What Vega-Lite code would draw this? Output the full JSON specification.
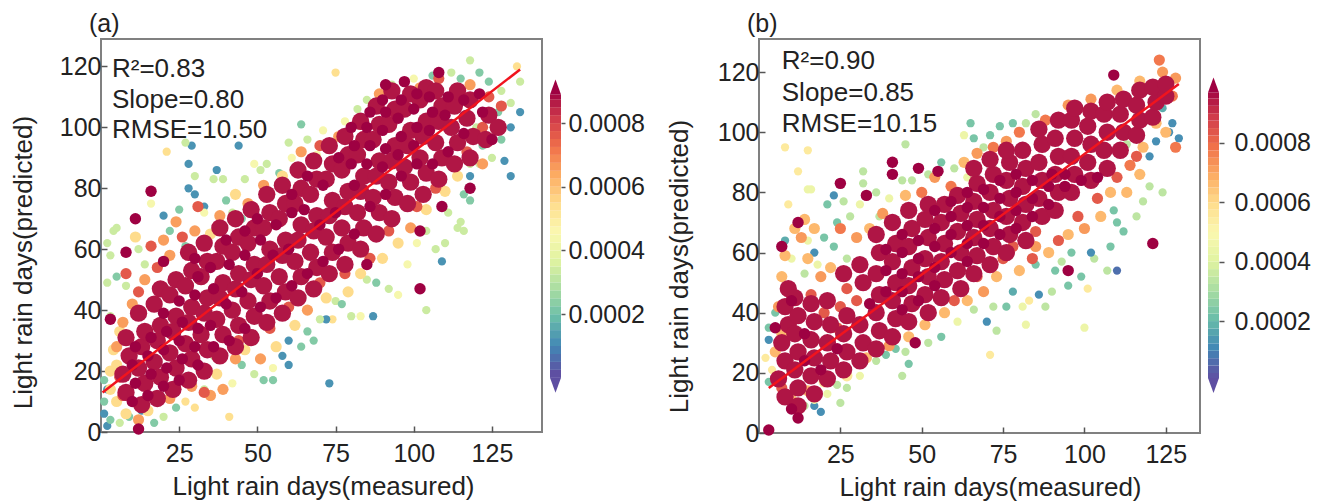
{"$schema":"https://vega.github.io/schema/vega-lite/v6.json","padding":{"left":9,"top":11,"right":0,"bottom":0},"background":"white",
"config":{"font":"Liberation Sans","view":{"stroke":"#808080","strokeWidth":2},"axis":{"grid":false,"domain":false,"labelFontSize":25,"titleFontSize":26,"titleFontWeight":"normal","labelColor":"#222","titleColor":"#222","tickColor":"#555","tickWidth":1.5,"tickSize":-6,"labelPadding":6},"title":{"fontSize":25,"fontWeight":"normal","anchor":"start","color":"#222"}},
"resolve":{"scale":{"color":"independent"}},
"datasets":{
"a":[{"x":2,"y":2,"d":1},{"x":1,"y":6,"d":1},{"x":1,"y":10,"d":2},{"x":2,"y":14,"d":1},{"x":1,"y":17,"d":2},{"x":3,"y":4,"d":2},{"x":6,"y":3,"d":3},{"x":9,"y":5,"d":2},{"x":4,"y":27,"d":5},{"x":3,"y":38,"d":3},{"x":2,"y":49,"d":3},{"x":3,"y":58,"d":3},{"x":4,"y":66,"d":3},{"x":5,"y":67,"d":3},{"x":2,"y":62,"d":3},{"x":5,"y":51,"d":2},{"x":8,"y":48,"d":3},{"x":75,"y":118,"d":4.9},{"x":73,"y":16,"d":1},{"x":29,"y":94,"d":1},{"x":44,"y":94,"d":1},{"x":21,"y":92,"d":4.9},{"x":28,"y":88,"d":1},{"x":37,"y":86,"d":1},{"x":28,"y":80,"d":1},{"x":30,"y":78,"d":1},{"x":33,"y":74,"d":1},{"x":27,"y":95,"d":3},{"x":12,"y":60,"d":3},{"x":16,"y":75,"d":4},{"x":20,"y":71,"d":1},{"x":22,"y":66,"d":2},{"x":25,"y":73,"d":2},{"x":27,"y":61,"d":2},{"x":30,"y":84,"d":3},{"x":33,"y":72,"d":4},{"x":36,"y":83,"d":3},{"x":39,"y":83,"d":3},{"x":40,"y":76,"d":2},{"x":42,"y":72,"d":3},{"x":45,"y":70,"d":2},{"x":46,"y":83,"d":3},{"x":49,"y":88,"d":4},{"x":51,"y":86,"d":3},{"x":53,"y":88,"d":3},{"x":57,"y":85,"d":2},{"x":60,"y":95,"d":3},{"x":61,"y":90,"d":4},{"x":64,"y":101,"d":2},{"x":66,"y":96,"d":3},{"x":71,"y":99,"d":4},{"x":69,"y":91,"d":4},{"x":78,"y":102,"d":4},{"x":82,"y":106,"d":3},{"x":85,"y":109,"d":3},{"x":93,"y":114,"d":3},{"x":100,"y":116,"d":4},{"x":106,"y":117,"d":2},{"x":112,"y":118,"d":3},{"x":115,"y":116,"d":2},{"x":118,"y":122,"d":3},{"x":121,"y":118,"d":2},{"x":124,"y":115,"d":2},{"x":128,"y":112,"d":3},{"x":131,"y":108,"d":3},{"x":134,"y":115,"d":3},{"x":133,"y":120,"d":4.9},{"x":134,"y":105,"d":1},{"x":131,"y":100,"d":1},{"x":128,"y":96,"d":2},{"x":129,"y":89,"d":1},{"x":131,"y":84,"d":1},{"x":125,"y":90,"d":3},{"x":121,"y":88,"d":3},{"x":122,"y":94,"d":2},{"x":118,"y":88,"d":3},{"x":118,"y":84,"d":1},{"x":116,"y":78,"d":2},{"x":118,"y":76,"d":2},{"x":115,"y":69,"d":3},{"x":114,"y":67,"d":3},{"x":116,"y":66,"d":3},{"x":110,"y":62,"d":3},{"x":107,"y":60,"d":3},{"x":109,"y":56,"d":1},{"x":104,"y":40,"d":3},{"x":95,"y":45,"d":4},{"x":92,"y":47,"d":3},{"x":88,"y":49,"d":2},{"x":85,"y":50,"d":3},{"x":87,"y":38,"d":1},{"x":83,"y":38,"d":4},{"x":80,"y":38,"d":3},{"x":75,"y":43,"d":3},{"x":74,"y":37,"d":4.9},{"x":72,"y":37,"d":1},{"x":77,"y":42,"d":2},{"x":68,"y":30,"d":2},{"x":66,"y":33,"d":2},{"x":64,"y":28,"d":2},{"x":60,"y":30,"d":1},{"x":58,"y":25,"d":1},{"x":60,"y":22,"d":1},{"x":55,"y":21,"d":4},{"x":55,"y":17,"d":2},{"x":52,"y":17,"d":2},{"x":49,"y":19,"d":3},{"x":45,"y":22,"d":2},{"x":41,"y":5,"d":4.9},{"x":30,"y":8,"d":4.9},{"x":27,"y":10,"d":4.9},{"x":24,"y":8,"d":2},{"x":20,"y":5,"d":3},{"x":17,"y":3,"d":2},{"x":13,"y":7,"d":1},{"x":98,"y":55,"d":4},{"x":101,"y":62,"d":4},{"x":104,"y":66,"d":3},{"x":111,"y":72,"d":3},{"x":120,"y":100,"d":3},{"x":127,"y":105,"d":2},{"x":36,"y":25,"d":3},{"x":70,"y":37,"d":3},{"x":42,"y":16,"d":4},{"x":33,"y":14,"d":3},{"x":14,"y":55,"d":3},
{"x":3,"y":20,"d":5},{"x":5,"y":10,"d":5},{"x":3,"y":14,"d":5},{"x":5,"y":22,"d":5},{"x":6,"y":33,"d":5},{"x":8,"y":6,"d":5},{"x":12,"y":4,"d":6},{"x":15,"y":7,"d":5},{"x":22,"y":11,"d":6},{"x":29,"y":15,"d":6},{"x":35,"y":12,"d":6},{"x":39,"y":14,"d":6},{"x":37,"y":19,"d":5},{"x":43,"y":24,"d":6},{"x":46,"y":27,"d":5},{"x":51,"y":24,"d":6},{"x":56,"y":28,"d":5},{"x":62,"y":35,"d":5},{"x":66,"y":40,"d":6},{"x":72,"y":44,"d":5},{"x":79,"y":46,"d":5},{"x":83,"y":52,"d":5},{"x":90,"y":57,"d":5},{"x":95,"y":62,"d":5},{"x":99,"y":67,"d":6},{"x":104,"y":73,"d":5},{"x":110,"y":79,"d":5},{"x":114,"y":84,"d":5},{"x":122,"y":88,"d":6},{"x":126,"y":100,"d":5},{"x":128,"y":107,"d":7},{"x":124,"y":110,"d":7},{"x":118,"y":114,"d":6},{"x":108,"y":116,"d":7},{"x":102,"y":113,"d":6},{"x":89,"y":111,"d":6},{"x":83,"y":101,"d":6},{"x":76,"y":97,"d":6},{"x":70,"y":94,"d":7},{"x":64,"y":92,"d":6},{"x":58,"y":84,"d":5},{"x":52,"y":81,"d":6},{"x":47,"y":75,"d":6},{"x":43,"y":78,"d":5},{"x":38,"y":71,"d":6},{"x":35,"y":65,"d":5},{"x":30,"y":66,"d":6},{"x":26,"y":64,"d":7},{"x":22,"y":58,"d":6},{"x":18,"y":54,"d":7},{"x":14,"y":50,"d":6},{"x":10,"y":42,"d":6},{"x":7,"y":36,"d":6},{"x":5,"y":28,"d":6},{"x":11,"y":64,"d":5},{"x":16,"y":61,"d":7},{"x":20,"y":63,"d":6},{"x":24,"y":69,"d":6},{"x":31,"y":74,"d":7},{"x":8,"y":52,"d":7},{"x":6,"y":18,"d":7},{"x":7,"y":12,"d":7},{"x":12,"y":46,"d":7},{"x":33,"y":13,"d":7},{"x":44,"y":30,"d":7},{"x":54,"y":34,"d":7},{"x":60,"y":41,"d":7},{"x":70,"y":49,"d":7},{"x":78,"y":52,"d":7},{"x":86,"y":57,"d":7},{"x":92,"y":66,"d":7},{"x":101,"y":74,"d":7},{"x":107,"y":80,"d":7},{"x":117,"y":92,"d":7},{"x":122,"y":100,"d":7},
{"x":8,"y":13,"d":8},{"x":7,"y":19,"d":8},{"x":9,"y":25,"d":8},{"x":8,"y":31,"d":8},{"x":13,"y":9,"d":8},{"x":14,"y":16,"d":8},{"x":12,"y":21,"d":8},{"x":13,"y":28,"d":8},{"x":14,"y":33,"d":8},{"x":12,"y":39,"d":8},{"x":18,"y":11,"d":8},{"x":19,"y":18,"d":8},{"x":17,"y":23,"d":8},{"x":18,"y":30,"d":8},{"x":19,"y":35,"d":8},{"x":17,"y":42,"d":8},{"x":19,"y":47,"d":8},{"x":23,"y":14,"d":8},{"x":24,"y":21,"d":8},{"x":22,"y":26,"d":8},{"x":23,"y":33,"d":8},{"x":24,"y":38,"d":8},{"x":22,"y":45,"d":8},{"x":24,"y":50,"d":8},{"x":28,"y":17,"d":8},{"x":29,"y":24,"d":8},{"x":27,"y":29,"d":8},{"x":28,"y":36,"d":8},{"x":29,"y":41,"d":8},{"x":27,"y":48,"d":8},{"x":29,"y":53,"d":8},{"x":28,"y":59,"d":8},{"x":33,"y":20,"d":8},{"x":34,"y":27,"d":8},{"x":32,"y":32,"d":8},{"x":33,"y":39,"d":8},{"x":34,"y":44,"d":8},{"x":32,"y":51,"d":8},{"x":34,"y":56,"d":8},{"x":33,"y":62,"d":8},{"x":38,"y":25,"d":8},{"x":39,"y":32,"d":8},{"x":37,"y":37,"d":8},{"x":38,"y":44,"d":8},{"x":39,"y":49,"d":8},{"x":37,"y":56,"d":8},{"x":39,"y":61,"d":8},{"x":38,"y":67,"d":8},{"x":43,"y":28,"d":8},{"x":44,"y":35,"d":8},{"x":42,"y":40,"d":8},{"x":43,"y":47,"d":8},{"x":44,"y":52,"d":8},{"x":42,"y":59,"d":8},{"x":44,"y":64,"d":8},{"x":43,"y":70,"d":8},{"x":48,"y":31,"d":8},{"x":49,"y":38,"d":8},{"x":47,"y":43,"d":8},{"x":48,"y":50,"d":8},{"x":49,"y":55,"d":8},{"x":47,"y":62,"d":8},{"x":49,"y":67,"d":8},{"x":48,"y":73,"d":8},{"x":53,"y":36,"d":8},{"x":54,"y":43,"d":8},{"x":52,"y":48,"d":8},{"x":53,"y":55,"d":8},{"x":54,"y":60,"d":8},{"x":52,"y":67,"d":8},{"x":54,"y":72,"d":8},{"x":53,"y":78,"d":8},{"x":58,"y":39,"d":8},{"x":59,"y":46,"d":8},{"x":57,"y":51,"d":8},{"x":58,"y":58,"d":8},{"x":59,"y":63,"d":8},{"x":57,"y":70,"d":8},{"x":59,"y":75,"d":8},{"x":58,"y":81,"d":8},{"x":63,"y":44,"d":8},{"x":64,"y":51,"d":8},{"x":62,"y":56,"d":8},{"x":63,"y":63,"d":8},{"x":64,"y":68,"d":8},{"x":62,"y":75,"d":8},{"x":64,"y":80,"d":8},{"x":63,"y":86,"d":8},{"x":68,"y":47,"d":8},{"x":69,"y":54,"d":8},{"x":67,"y":59,"d":8},{"x":68,"y":66,"d":8},{"x":69,"y":71,"d":8},{"x":67,"y":78,"d":8},{"x":69,"y":83,"d":8},{"x":68,"y":89,"d":8},{"x":73,"y":52,"d":8},{"x":74,"y":59,"d":8},{"x":72,"y":64,"d":8},{"x":73,"y":71,"d":8},{"x":74,"y":76,"d":8},{"x":72,"y":83,"d":8},{"x":74,"y":88,"d":8},{"x":73,"y":94,"d":8},{"x":78,"y":55,"d":8},{"x":79,"y":62,"d":8},{"x":77,"y":67,"d":8},{"x":78,"y":74,"d":8},{"x":79,"y":79,"d":8},{"x":77,"y":86,"d":8},{"x":79,"y":91,"d":8},{"x":78,"y":97,"d":8},{"x":83,"y":60,"d":8},{"x":84,"y":67,"d":8},{"x":82,"y":72,"d":8},{"x":83,"y":79,"d":8},{"x":84,"y":84,"d":8},{"x":82,"y":91,"d":8},{"x":84,"y":96,"d":8},{"x":83,"y":102,"d":8},{"x":88,"y":65,"d":8},{"x":89,"y":72,"d":8},{"x":87,"y":77,"d":8},{"x":88,"y":84,"d":8},{"x":89,"y":89,"d":8},{"x":87,"y":96,"d":8},{"x":89,"y":101,"d":8},{"x":88,"y":107,"d":8},{"x":93,"y":70,"d":8},{"x":94,"y":77,"d":8},{"x":92,"y":82,"d":8},{"x":93,"y":89,"d":8},{"x":94,"y":94,"d":8},{"x":92,"y":101,"d":8},{"x":94,"y":106,"d":8},{"x":93,"y":112,"d":8},{"x":98,"y":75,"d":8},{"x":99,"y":82,"d":8},{"x":97,"y":87,"d":8},{"x":98,"y":94,"d":8},{"x":99,"y":99,"d":8},{"x":97,"y":106,"d":8},{"x":99,"y":111,"d":8},{"x":103,"y":78,"d":8},{"x":104,"y":85,"d":8},{"x":102,"y":90,"d":8},{"x":103,"y":97,"d":8},{"x":104,"y":102,"d":8},{"x":102,"y":109,"d":8},{"x":104,"y":113,"d":8},{"x":108,"y":83,"d":8},{"x":109,"y":90,"d":8},{"x":107,"y":95,"d":8},{"x":108,"y":102,"d":8},{"x":109,"y":107,"d":8},{"x":107,"y":112,"d":8},{"x":113,"y":88,"d":8},{"x":114,"y":95,"d":8},{"x":112,"y":100,"d":8},{"x":113,"y":107,"d":8},{"x":114,"y":112,"d":8},{"x":118,"y":90,"d":8},{"x":119,"y":97,"d":8},{"x":117,"y":103,"d":8},{"x":118,"y":109,"d":8},{"x":123,"y":96,"d":8},{"x":124,"y":104,"d":8},{"x":127,"y":100,"d":8},
{"x":10,"y":10,"d":9},{"x":11,"y":16,"d":9},{"x":10,"y":22,"d":9},{"x":11,"y":28,"d":9},{"x":15,"y":12,"d":9},{"x":16,"y":19,"d":9},{"x":15,"y":25,"d":9},{"x":16,"y":31,"d":9},{"x":20,"y":15,"d":9},{"x":21,"y":21,"d":9},{"x":20,"y":27,"d":9},{"x":21,"y":33,"d":9},{"x":20,"y":39,"d":9},{"x":25,"y":17,"d":9},{"x":26,"y":24,"d":9},{"x":25,"y":30,"d":9},{"x":26,"y":36,"d":9},{"x":25,"y":43,"d":9},{"x":31,"y":22,"d":9},{"x":30,"y":28,"d":9},{"x":31,"y":34,"d":9},{"x":30,"y":45,"d":9},{"x":31,"y":51,"d":9},{"x":36,"y":28,"d":9},{"x":35,"y":35,"d":9},{"x":36,"y":47,"d":9},{"x":35,"y":54,"d":9},{"x":41,"y":30,"d":9},{"x":40,"y":42,"d":9},{"x":41,"y":55,"d":9},{"x":40,"y":63,"d":9},{"x":46,"y":34,"d":9},{"x":45,"y":46,"d":9},{"x":46,"y":58,"d":9},{"x":46,"y":66,"d":9},{"x":51,"y":41,"d":9},{"x":50,"y":52,"d":9},{"x":51,"y":63,"d":9},{"x":50,"y":70,"d":9},{"x":56,"y":44,"d":9},{"x":55,"y":58,"d":9},{"x":56,"y":68,"d":9},{"x":61,"y":48,"d":9},{"x":60,"y":60,"d":9},{"x":61,"y":72,"d":9},{"x":61,"y":78,"d":9},{"x":66,"y":52,"d":9},{"x":65,"y":73,"d":9},{"x":66,"y":84,"d":9},{"x":71,"y":56,"d":9},{"x":70,"y":68,"d":9},{"x":71,"y":81,"d":9},{"x":76,"y":60,"d":9},{"x":75,"y":72,"d":9},{"x":76,"y":90,"d":9},{"x":81,"y":65,"d":9},{"x":81,"y":81,"d":9},{"x":80,"y":88,"d":9},{"x":81,"y":94,"d":9},{"x":80,"y":100,"d":9},{"x":86,"y":74,"d":9},{"x":85,"y":88,"d":9},{"x":86,"y":94,"d":9},{"x":85,"y":100,"d":9},{"x":86,"y":105,"d":9},{"x":91,"y":78,"d":9},{"x":90,"y":87,"d":9},{"x":91,"y":93,"d":9},{"x":90,"y":99,"d":9},{"x":91,"y":105,"d":9},{"x":90,"y":109,"d":9},{"x":96,"y":84,"d":9},{"x":95,"y":91,"d":9},{"x":96,"y":97,"d":9},{"x":95,"y":103,"d":9},{"x":96,"y":109,"d":9},{"x":101,"y":88,"d":9},{"x":100,"y":94,"d":9},{"x":101,"y":100,"d":9},{"x":100,"y":106,"d":9},{"x":101,"y":111,"d":9},{"x":106,"y":88,"d":9},{"x":105,"y":99,"d":9},{"x":106,"y":105,"d":9},{"x":105,"y":110,"d":9},{"x":111,"y":92,"d":9},{"x":110,"y":104,"d":9},{"x":111,"y":110,"d":9},{"x":116,"y":98,"d":9},{"x":116,"y":109,"d":9},{"x":122,"y":105,"d":9},{"x":121,"y":111,"d":9},{"x":125,"y":96,"d":9},{"x":118,"y":80,"d":9},{"x":109,"y":74,"d":9},{"x":102,"y":66,"d":9},{"x":102,"y":47,"d":9},{"x":85,"y":55,"d":9},{"x":30,"y":57,"d":9},{"x":20,"y":56,"d":9},{"x":16,"y":79,"d":9},{"x":11,"y":70,"d":9},{"x":8,"y":59,"d":9},{"x":3,"y":37,"d":9},{"x":12,"y":1,"d":9},{"x":108,"y":118,"d":9},{"x":91,"y":114,"d":9},{"x":97,"y":115,"d":9}],
"b":[{"x":8,"y":95,"d":4.9},{"x":15,"y":94,"d":4.9},{"x":12,"y":87,"d":4.9},{"x":16,"y":81,"d":4},{"x":9,"y":76,"d":4.9},{"x":3,"y":35,"d":2},{"x":3,"y":31,"d":1},{"x":2,"y":25,"d":4.9},{"x":4,"y":21,"d":4.9},{"x":3,"y":17,"d":2},{"x":100,"y":35,"d":4},{"x":71,"y":26,"d":4.9},{"x":82,"y":36,"d":4},{"x":73,"y":34,"d":3},{"x":70,"y":37,"d":1},{"x":44,"y":19,"d":3},{"x":46,"y":23,"d":2},{"x":25,"y":10,"d":3},{"x":27,"y":15,"d":3},{"x":17,"y":9,"d":1},{"x":110,"y":54,"d":0.5},{"x":107,"y":54,"d":3},{"x":101,"y":48,"d":4.9},{"x":95,"y":49,"d":2},{"x":88,"y":42,"d":3},{"x":90,"y":47,"d":3},{"x":83,"y":44,"d":4.9},{"x":81,"y":42,"d":4},{"x":86,"y":46,"d":1},{"x":99,"y":52,"d":2},{"x":91,"y":54,"d":2},{"x":103,"y":58,"d":3},{"x":108,"y":62,"d":2},{"x":102,"y":60,"d":1},{"x":93,"y":57,"d":3},{"x":85,"y":56,"d":2},{"x":96,"y":60,"d":2},{"x":112,"y":67,"d":2},{"x":110,"y":70,"d":2},{"x":116,"y":72,"d":3},{"x":109,"y":74,"d":2},{"x":120,"y":82,"d":3},{"x":118,"y":77,"d":3},{"x":124,"y":80,"d":3},{"x":120,"y":92,"d":1},{"x":122,"y":97,"d":1},{"x":126,"y":100,"d":1},{"x":129,"y":98,"d":1},{"x":124,"y":108,"d":1.5},{"x":127,"y":103,"d":1},{"x":123,"y":112,"d":2},{"x":113,"y":96,"d":3},{"x":45,"y":96,"d":3},{"x":32,"y":87,"d":3},{"x":32,"y":83,"d":3},{"x":15,"y":81,"d":4},{"x":23,"y":79,"d":1},{"x":21,"y":76,"d":2},{"x":26,"y":77,"d":3},{"x":31,"y":76,"d":4},{"x":37,"y":72,"d":3},{"x":36,"y":80,"d":3},{"x":40,"y":78,"d":4},{"x":44,"y":84,"d":3},{"x":47,"y":84,"d":3},{"x":52,"y":86,"d":3},{"x":56,"y":90,"d":2},{"x":60,"y":88,"d":3},{"x":64,"y":85,"d":4},{"x":66,"y":98,"d":2},{"x":65,"y":103,"d":2},{"x":63,"y":99,"d":4},{"x":69,"y":95,"d":3},{"x":71,"y":99,"d":2},{"x":74,"y":102,"d":2},{"x":78,"y":103,"d":2},{"x":82,"y":103,"d":3},{"x":85,"y":106,"d":3},{"x":17,"y":60,"d":1},{"x":20,"y":65,"d":2},{"x":23,"y":62,"d":2},{"x":15,"y":64,"d":4},{"x":27,"y":58,"d":3},{"x":14,"y":53,"d":3},{"x":18,"y":56,"d":4},{"x":8,"y":64,"d":1.5},{"x":10,"y":58,"d":4},{"x":5,"y":40,"d":2},{"x":28,"y":72,"d":3},{"x":24,"y":70,"d":2},{"x":21,"y":13,"d":4},{"x":17,"y":11,"d":4},{"x":14,"y":9,"d":3},{"x":24,"y":16,"d":3},{"x":31,"y":19,"d":4},{"x":36,"y":24,"d":3},{"x":39,"y":26,"d":2},{"x":42,"y":28,"d":2},{"x":45,"y":27,"d":3},{"x":52,"y":30,"d":3},{"x":56,"y":32,"d":2},{"x":61,"y":37,"d":4},{"x":66,"y":41,"d":3},{"x":72,"y":42,"d":3},{"x":76,"y":42,"d":2},{"x":78,"y":47,"d":1.5},{"x":19,"y":7,"d":1},
{"x":5,"y":27,"d":6},{"x":7,"y":33,"d":6},{"x":6,"y":42,"d":6.5},{"x":7,"y":52,"d":6},{"x":8,"y":59,"d":6},{"x":11,"y":68,"d":6},{"x":14,"y":71,"d":6},{"x":13,"y":65,"d":6.5},{"x":17,"y":68,"d":6},{"x":15,"y":58,"d":6},{"x":19,"y":52,"d":6.5},{"x":22,"y":55,"d":6},{"x":25,"y":68,"d":7},{"x":30,"y":65,"d":6.5},{"x":34,"y":68,"d":6},{"x":38,"y":73,"d":6.5},{"x":45,"y":79,"d":6},{"x":50,"y":80,"d":7},{"x":54,"y":85,"d":6.5},{"x":59,"y":82,"d":7},{"x":63,"y":90,"d":6},{"x":67,"y":93,"d":6.5},{"x":72,"y":95,"d":7},{"x":76,"y":97,"d":6.5},{"x":80,"y":100,"d":7},{"x":88,"y":104,"d":7},{"x":95,"y":109,"d":6.5},{"x":102,"y":111,"d":6.5},{"x":110,"y":114,"d":6},{"x":117,"y":117,"d":6},{"x":124,"y":120,"d":6.5},{"x":123,"y":124,"d":7},{"x":128,"y":118,"d":6.5},{"x":127,"y":112,"d":7},{"x":128,"y":95,"d":7},{"x":125,"y":100,"d":6},{"x":122,"y":103,"d":6},{"x":118,"y":95,"d":6},{"x":117,"y":86,"d":6},{"x":114,"y":89,"d":7},{"x":113,"y":80,"d":6},{"x":108,"y":80,"d":6},{"x":105,"y":72,"d":6},{"x":100,"y":68,"d":6.5},{"x":95,"y":66,"d":6},{"x":89,"y":60,"d":6},{"x":85,"y":62,"d":6.5},{"x":80,"y":54,"d":6},{"x":73,"y":52,"d":6},{"x":69,"y":47,"d":6.5},{"x":64,"y":44,"d":6},{"x":57,"y":40,"d":6},{"x":51,"y":36,"d":6},{"x":46,"y":32,"d":6},{"x":40,"y":29,"d":6.5},{"x":33,"y":25,"d":6},{"x":27,"y":19,"d":5},{"x":20,"y":17,"d":5},{"x":15,"y":14,"d":6},{"x":10,"y":11,"d":6},{"x":7,"y":15,"d":7.5},{"x":84,"y":58,"d":7.5},{"x":92,"y":64,"d":7.5},{"x":98,"y":72,"d":7.5},{"x":104,"y":78,"d":7.5},{"x":110,"y":85,"d":7.5},{"x":116,"y":92,"d":7.5},{"x":60,"y":44,"d":7.5},{"x":67,"y":52,"d":7.5},{"x":75,"y":58,"d":7.5},{"x":78,"y":62,"d":7.5},{"x":85,"y":67,"d":7.5},{"x":20,"y":40,"d":7.5},{"x":25,"y":42,"d":7.5},{"x":16,"y":46,"d":7.5},{"x":27,"y":48,"d":7.5},{"x":30,"y":44,"d":7.5},{"x":24,"y":35,"d":7.5},
{"x":8,"y":12,"d":8.6},{"x":6,"y":18,"d":8.6},{"x":8,"y":24,"d":8.6},{"x":7,"y":30,"d":8.6},{"x":9,"y":36,"d":8.6},{"x":8,"y":42,"d":8.6},{"x":9,"y":48,"d":8.6},{"x":12,"y":9,"d":8.6},{"x":12,"y":15,"d":8.6},{"x":11,"y":21,"d":8.6},{"x":12,"y":27,"d":8.6},{"x":11,"y":33,"d":8.6},{"x":12,"y":39,"d":8.6},{"x":11,"y":45,"d":8.6},{"x":17,"y":13,"d":8.6},{"x":16,"y":19,"d":8.6},{"x":17,"y":25,"d":8.6},{"x":16,"y":31,"d":8.6},{"x":17,"y":37,"d":8.6},{"x":16,"y":43,"d":8.6},{"x":21,"y":18,"d":8.6},{"x":22,"y":24,"d":8.6},{"x":21,"y":30,"d":8.6},{"x":22,"y":36,"d":8.6},{"x":21,"y":44,"d":8.6},{"x":26,"y":21,"d":8.6},{"x":27,"y":27,"d":8.6},{"x":26,"y":33,"d":8.6},{"x":27,"y":39,"d":8.6},{"x":26,"y":53,"d":8.6},{"x":31,"y":24,"d":8.6},{"x":32,"y":30,"d":8.6},{"x":31,"y":36,"d":8.6},{"x":32,"y":50,"d":8.6},{"x":31,"y":56,"d":8.6},{"x":36,"y":28,"d":8.6},{"x":37,"y":34,"d":8.6},{"x":36,"y":40,"d":8.6},{"x":37,"y":46,"d":8.6},{"x":36,"y":53,"d":8.6},{"x":37,"y":60,"d":8.6},{"x":36,"y":66,"d":8.6},{"x":41,"y":32,"d":8.6},{"x":42,"y":38,"d":8.6},{"x":41,"y":44,"d":8.6},{"x":42,"y":50,"d":8.6},{"x":41,"y":57,"d":8.6},{"x":42,"y":63,"d":8.6},{"x":41,"y":70,"d":8.6},{"x":46,"y":37,"d":8.6},{"x":47,"y":43,"d":8.6},{"x":46,"y":49,"d":8.6},{"x":47,"y":55,"d":8.6},{"x":46,"y":62,"d":8.6},{"x":47,"y":68,"d":8.6},{"x":46,"y":74,"d":8.6},{"x":52,"y":40,"d":8.6},{"x":51,"y":46,"d":8.6},{"x":52,"y":52,"d":8.6},{"x":51,"y":58,"d":8.6},{"x":52,"y":65,"d":8.6},{"x":51,"y":71,"d":8.6},{"x":52,"y":76,"d":8.6},{"x":56,"y":45,"d":8.6},{"x":57,"y":51,"d":8.6},{"x":56,"y":57,"d":8.6},{"x":57,"y":63,"d":8.6},{"x":56,"y":70,"d":8.6},{"x":57,"y":76,"d":8.6},{"x":62,"y":48,"d":8.6},{"x":61,"y":54,"d":8.6},{"x":62,"y":60,"d":8.6},{"x":61,"y":67,"d":8.6},{"x":62,"y":73,"d":8.6},{"x":61,"y":79,"d":8.6},{"x":66,"y":53,"d":8.6},{"x":67,"y":59,"d":8.6},{"x":66,"y":65,"d":8.6},{"x":67,"y":71,"d":8.6},{"x":66,"y":77,"d":8.6},{"x":67,"y":83,"d":8.6},{"x":66,"y":88,"d":8.6},{"x":71,"y":56,"d":8.6},{"x":72,"y":62,"d":8.6},{"x":71,"y":68,"d":8.6},{"x":72,"y":74,"d":8.6},{"x":71,"y":80,"d":8.6},{"x":72,"y":86,"d":8.6},{"x":71,"y":91,"d":8.6},{"x":76,"y":60,"d":8.6},{"x":77,"y":66,"d":8.6},{"x":76,"y":72,"d":8.6},{"x":77,"y":78,"d":8.6},{"x":76,"y":84,"d":8.6},{"x":77,"y":90,"d":8.6},{"x":76,"y":94,"d":8.6},{"x":82,"y":64,"d":8.6},{"x":81,"y":70,"d":8.6},{"x":82,"y":76,"d":8.6},{"x":81,"y":82,"d":8.6},{"x":82,"y":88,"d":8.6},{"x":81,"y":94,"d":8.6},{"x":87,"y":72,"d":8.6},{"x":86,"y":78,"d":8.6},{"x":87,"y":84,"d":8.6},{"x":86,"y":90,"d":8.6},{"x":87,"y":96,"d":8.6},{"x":86,"y":101,"d":8.6},{"x":91,"y":74,"d":8.6},{"x":92,"y":80,"d":8.6},{"x":91,"y":86,"d":8.6},{"x":92,"y":92,"d":8.6},{"x":91,"y":98,"d":8.6},{"x":92,"y":104,"d":8.6},{"x":96,"y":80,"d":8.6},{"x":97,"y":86,"d":8.6},{"x":96,"y":92,"d":8.6},{"x":97,"y":98,"d":8.6},{"x":96,"y":104,"d":8.6},{"x":97,"y":108,"d":8.6},{"x":102,"y":84,"d":8.6},{"x":101,"y":90,"d":8.6},{"x":102,"y":96,"d":8.6},{"x":101,"y":102,"d":8.6},{"x":102,"y":107,"d":8.6},{"x":107,"y":88,"d":8.6},{"x":106,"y":94,"d":8.6},{"x":107,"y":100,"d":8.6},{"x":106,"y":106,"d":8.6},{"x":107,"y":110,"d":8.6},{"x":111,"y":94,"d":8.6},{"x":112,"y":100,"d":8.6},{"x":111,"y":106,"d":8.6},{"x":112,"y":111,"d":8.6},{"x":116,"y":99,"d":8.6},{"x":117,"y":104,"d":8.6},{"x":116,"y":109,"d":8.6},{"x":117,"y":114,"d":8.6},{"x":121,"y":105,"d":8.6},{"x":122,"y":110,"d":8.6},{"x":121,"y":115,"d":8.6},{"x":125,"y":112,"d":8.6},{"x":125,"y":116,"d":8.6},
{"x":10,"y":44,"d":9.7},{"x":12,"y":70,"d":9.7},{"x":7,"y":62,"d":9.7},{"x":5,"y":35,"d":9.7},{"x":3,"y":1,"d":9.7},{"x":12,"y":5,"d":9.7},{"x":10,"y":8,"d":9.7},{"x":25,"y":83,"d":9.7},{"x":33,"y":79,"d":9.7},{"x":41,"y":90,"d":9.7},{"x":41,"y":86,"d":9.7},{"x":49,"y":88,"d":9.7},{"x":55,"y":87,"d":9.7},{"x":109,"y":119,"d":9.7},{"x":121,"y":63,"d":9.7},{"x":95,"y":54,"d":9.7},{"x":48,"y":30,"d":9.7},{"x":14,"y":24,"d":9.7},{"x":19,"y":21,"d":9.7},{"x":14,"y":33,"d":9.7},{"x":24,"y":28,"d":9.7},{"x":34,"y":43,"d":9.7},{"x":39,"y":47,"d":9.7},{"x":39,"y":54,"d":9.7},{"x":39,"y":61,"d":9.7},{"x":44,"y":41,"d":9.7},{"x":44,"y":47,"d":9.7},{"x":44,"y":53,"d":9.7},{"x":44,"y":60,"d":9.7},{"x":44,"y":66,"d":9.7},{"x":49,"y":44,"d":9.7},{"x":49,"y":52,"d":9.7},{"x":49,"y":58,"d":9.7},{"x":49,"y":64,"d":9.7},{"x":54,"y":49,"d":9.7},{"x":54,"y":55,"d":9.7},{"x":54,"y":62,"d":9.7},{"x":54,"y":68,"d":9.7},{"x":54,"y":74,"d":9.7},{"x":59,"y":60,"d":9.7},{"x":59,"y":66,"d":9.7},{"x":59,"y":72,"d":9.7},{"x":59,"y":77,"d":9.7},{"x":64,"y":57,"d":9.7},{"x":64,"y":63,"d":9.7},{"x":64,"y":69,"d":9.7},{"x":64,"y":75,"d":9.7},{"x":64,"y":80,"d":9.7},{"x":69,"y":63,"d":9.7},{"x":69,"y":69,"d":9.7},{"x":69,"y":75,"d":9.7},{"x":69,"y":81,"d":9.7},{"x":74,"y":66,"d":9.7},{"x":74,"y":72,"d":9.7},{"x":74,"y":78,"d":9.7},{"x":74,"y":84,"d":9.7},{"x":79,"y":68,"d":9.7},{"x":79,"y":74,"d":9.7},{"x":79,"y":80,"d":9.7},{"x":79,"y":86,"d":9.7},{"x":84,"y":72,"d":9.7},{"x":84,"y":78,"d":9.7},{"x":84,"y":84,"d":9.7},{"x":89,"y":76,"d":9.7},{"x":89,"y":82,"d":9.7},{"x":94,"y":82,"d":9.7},{"x":94,"y":86,"d":9.7},{"x":99,"y":84,"d":9.7},{"x":104,"y":85,"d":9.7},{"x":90,"y":86,"d":9.7}],
"barA":[{"v":0,"w":0.25},{"v":0.25,"w":0.5},{"v":0.5,"w":0.75},{"v":0.75,"w":1},{"v":1,"w":1.25},{"v":1.25,"w":1.5},{"v":1.5,"w":1.75},{"v":1.75,"w":2},{"v":2,"w":2.25},{"v":2.25,"w":2.5},{"v":2.5,"w":2.75},{"v":2.75,"w":3},{"v":3,"w":3.25},{"v":3.25,"w":3.5},{"v":3.5,"w":3.75},{"v":3.75,"w":4},{"v":4,"w":4.25},{"v":4.25,"w":4.5},{"v":4.5,"w":4.75},{"v":4.75,"w":5},{"v":5,"w":5.25},{"v":5.25,"w":5.5},{"v":5.5,"w":5.75},{"v":5.75,"w":6},{"v":6,"w":6.25},{"v":6.25,"w":6.5},{"v":6.5,"w":6.75},{"v":6.75,"w":7},{"v":7,"w":7.25},{"v":7.25,"w":7.5},{"v":7.5,"w":7.75},{"v":7.75,"w":8},{"v":8,"w":8.25},{"v":8.25,"w":8.5},{"v":8.5,"w":8.75},{"v":8.75,"w":8.9}],
"barB":[{"v":0.08,"w":0.25},{"v":0.25,"w":0.5},{"v":0.5,"w":0.75},{"v":0.75,"w":1},{"v":1,"w":1.25},{"v":1.25,"w":1.5},{"v":1.5,"w":1.75},{"v":1.75,"w":2},{"v":2,"w":2.25},{"v":2.25,"w":2.5},{"v":2.5,"w":2.75},{"v":2.75,"w":3},{"v":3,"w":3.25},{"v":3.25,"w":3.5},{"v":3.5,"w":3.75},{"v":3.75,"w":4},{"v":4,"w":4.25},{"v":4.25,"w":4.5},{"v":4.5,"w":4.75},{"v":4.75,"w":5},{"v":5,"w":5.25},{"v":5.25,"w":5.5},{"v":5.5,"w":5.75},{"v":5.75,"w":6},{"v":6,"w":6.25},{"v":6.25,"w":6.5},{"v":6.5,"w":6.75},{"v":6.75,"w":7},{"v":7,"w":7.25},{"v":7.25,"w":7.5},{"v":7.5,"w":7.75},{"v":7.75,"w":8},{"v":8,"w":8.25},{"v":8.25,"w":8.5},{"v":8.5,"w":8.75},{"v":8.75,"w":9},{"v":9,"w":9.25},{"v":9.25,"w":9.5},{"v":9.5,"w":9.7}],
"upA":[{"v":8.9}],"downA":[{"v":0}],"upB":[{"v":9.7}],"downB":[{"v":0.08}],
"lineA":[{"x":0.5,"y":13},{"x":134,"y":119}],"lineB":[{"x":3,"y":15},{"x":129,"y":116}],
"txtA":[{"x":3.5,"y":119,"t":"R²=0.83"},{"x":3.5,"y":109,"t":"Slope=0.80"},{"x":3.5,"y":99,"t":"RMSE=10.50"}],
"txtB":[{"x":7,"y":123.7,"t":"R²=0.90"},{"x":7,"y":113,"t":"Slope=0.85"},{"x":7,"y":102.7,"t":"RMSE=10.15"}]},
"hconcat":[
{"resolve":{"scale":{"color":"independent"}},"hconcat":[
{"width":441,"height":393,"title":{"text":"(a)","dx":-12,"offset":2,"frame":"group"},
"layer":[
{"data":{"name":"a"},"encoding":{"x":{"field":"x","type":"quantitative","scale":{"domain":[0,141],"nice":false},"axis":{"values":[25,50,75,100,125],"title":"Light rain days(measured)","titleX":222,"titlePadding":7,"labelPadding":15}},"y":{"field":"y","type":"quantitative","scale":{"domain":[0,129],"nice":false},"axis":{"values":[0,20,40,60,80,100,120],"title":"Light rain days(predicted)","titleX":-65,"titleY":223}},"color":{"field":"d","type":"quantitative","scale":{"scheme":"spectral","reverse":true,"domain":[0,8.3],"clamp":true},"legend":null}},
"layer":[
{"transform":[{"filter":"datum.d<5"}],"mark":{"type":"circle","opacity":1,"size":68}},
{"transform":[{"filter":"datum.d>=5&&datum.d<8"}],"mark":{"type":"circle","opacity":1,"size":125}},
{"transform":[{"filter":"datum.d>=8&&datum.d<8.9"}],"mark":{"type":"circle","opacity":1,"size":300}},
{"transform":[{"filter":"datum.d>=8.9"}],"mark":{"type":"circle","opacity":1,"size":130}}
]},
{"data":{"name":"lineA"},"mark":{"type":"line","color":"#f0141e","strokeWidth":2.5},"encoding":{"x":{"field":"x","type":"quantitative"},"y":{"field":"y","type":"quantitative"}}},
{"data":{"name":"txtA"},"mark":{"type":"text","align":"left","baseline":"middle","fontSize":26,"color":"#222"},"encoding":{"x":{"field":"x","type":"quantitative"},"y":{"field":"y","type":"quantitative"},"text":{"field":"t"}}}
]},
{"width":11,"height":393,"view":{"stroke":null},
"layer":[
{"data":{"name":"barA"},"mark":{"type":"rect"},"encoding":{"y":{"field":"v","type":"quantitative","scale":{"domain":[-1.7,10.64],"nice":false},"axis":{"orient":"right","values":[2,4,6,8],"labelExpr":"format(datum.value/10000,'.4f')","title":null,"tickSize":4,"labelPadding":3}},"y2":{"field":"w"},"color":{"field":"v","type":"quantitative","scale":{"scheme":"spectral","reverse":true,"domain":[0,8.9]},"legend":null}}},
{"data":{"name":"upA"},"mark":{"type":"point","filled":true,"opacity":1,"size":121,"shape":"M-1,0L1,0L0,-2.7Z","color":"#9e0142"},"encoding":{"y":{"field":"v","type":"quantitative"}}},
{"data":{"name":"downA"},"mark":{"type":"point","filled":true,"opacity":1,"size":121,"shape":"M-1,0L1,0L0,2.7Z","color":"#5e4fa2"},"encoding":{"y":{"field":"v","type":"quantitative"}}}
]}
],"spacing":7},
{"resolve":{"scale":{"color":"independent"}},"hconcat":[
{"width":441,"height":394,"title":{"text":"(b)","dx":-12,"offset":2,"frame":"group"},
"layer":[
{"data":{"name":"b"},"encoding":{"x":{"field":"x","type":"quantitative","scale":{"domain":[0,135.5],"nice":false},"axis":{"values":[25,50,75,100,125],"title":"Light rain days(measured)","titleX":231,"titlePadding":7,"labelPadding":15}},"y":{"field":"y","type":"quantitative","scale":{"domain":[0,131],"nice":false},"axis":{"values":[0,20,40,60,80,100,120],"title":"Light rain days(predicted)","titleX":-67,"titleY":227}},"color":{"field":"d","type":"quantitative","scale":{"scheme":"spectral","reverse":true,"domain":[0,8.9],"clamp":true},"legend":null}},
"layer":[
{"transform":[{"filter":"datum.d<5"}],"mark":{"type":"circle","opacity":1,"size":68}},
{"transform":[{"filter":"datum.d>=5&&datum.d<8"}],"mark":{"type":"circle","opacity":1,"size":125}},
{"transform":[{"filter":"datum.d>=8&&datum.d<9.5"}],"mark":{"type":"circle","opacity":1,"size":300}},
{"transform":[{"filter":"datum.d>=9.5"}],"mark":{"type":"circle","opacity":1,"size":130}}
]},
{"data":{"name":"lineB"},"mark":{"type":"line","color":"#f0141e","strokeWidth":2.5},"encoding":{"x":{"field":"x","type":"quantitative"},"y":{"field":"y","type":"quantitative"}}},
{"data":{"name":"txtB"},"mark":{"type":"text","align":"left","baseline":"middle","fontSize":26,"color":"#222"},"encoding":{"x":{"field":"x","type":"quantitative"},"y":{"field":"y","type":"quantitative"},"text":{"field":"t"}}}
]},
{"width":11,"height":394,"view":{"stroke":null},
"layer":[
{"data":{"name":"barB"},"mark":{"type":"rect"},"encoding":{"y":{"field":"v","type":"quantitative","scale":{"domain":[-1.77,11.5],"nice":false},"axis":{"orient":"right","values":[2,4,6,8],"labelExpr":"format(datum.value/10000,'.4f')","title":null,"tickSize":5,"labelPadding":10}},"y2":{"field":"w"},"color":{"field":"v","type":"quantitative","scale":{"scheme":"spectral","reverse":true,"domain":[0,9.7]},"legend":null}}},
{"data":{"name":"upB"},"mark":{"type":"point","filled":true,"opacity":1,"size":121,"shape":"M-1,0L1,0L0,-2.7Z","color":"#9e0142"},"encoding":{"y":{"field":"v","type":"quantitative"}}},
{"data":{"name":"downB"},"mark":{"type":"point","filled":true,"opacity":1,"size":121,"shape":"M-1,0L1,0L0,2.7Z","color":"#5e4fa2"},"encoding":{"y":{"field":"v","type":"quantitative"}}}
]}
],"spacing":7}
],"spacing":20}
